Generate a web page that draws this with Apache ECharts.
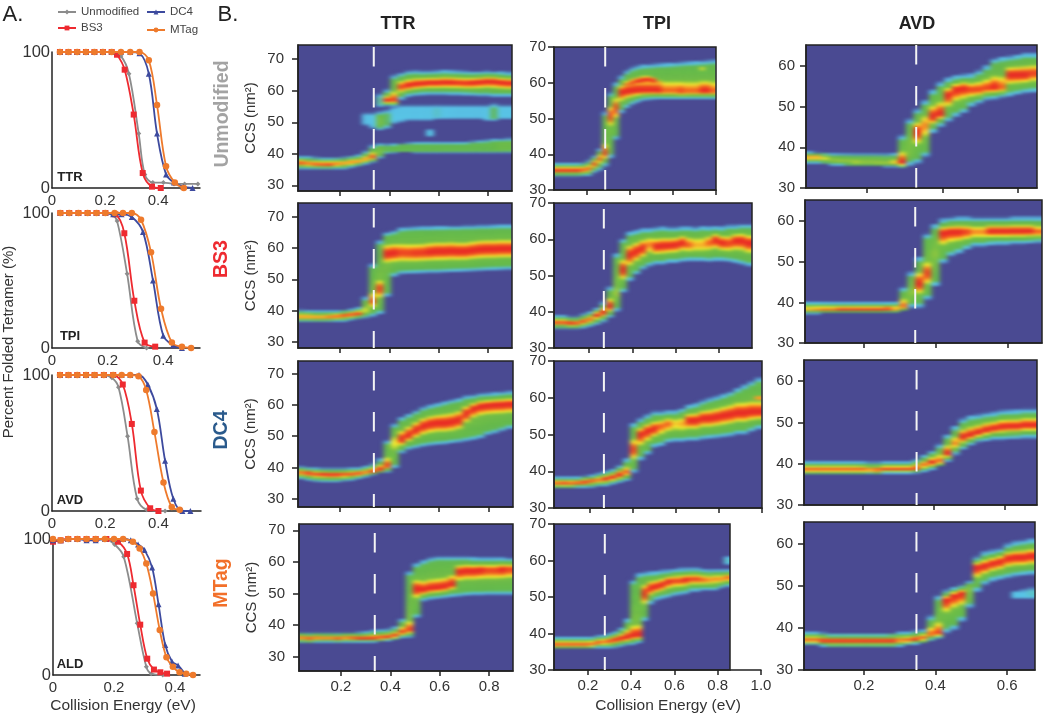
<!DOCTYPE html>
<html>
<head>
<meta charset="utf-8">
<style>html,body{margin:0;padding:0;background:#fff}#c{width:1050px;height:719px}</style>
<script src="https://cdn.jsdelivr.net/npm/echarts@6/dist/echarts.min.js"></script>
</head>
<body>
<svg width="0" height="0" style="position:absolute"><filter id="heatBlur" x="0" y="0" width="100%" height="100%" color-interpolation-filters="sRGB"><feGaussianBlur stdDeviation="2.4 0.8"/></filter></svg>
<div id="c"></div>
<script>
// ---------- Panel A: percent folded tetramer, [energy, percent]
const ttrUnmod=[[.03,100],[.062,100],[.095,100],[.128,100],[.16,100],[.192,100],[.225,100],[.26,97],[.29,84],[.327,40],[.35,10],[.38,4],[.42,4],[.46,3],[.5,3],[.55,3]];
const ttrBs3=[[.03,100],[.062,100],[.095,100],[.128,100],[.16,100],[.192,100],[.225,100],[.245,98],[.274,87],[.308,54],[.342,11],[.377,1],[.41,0]];
const ttrDc4=[[.03,100],[.062,100],[.095,100],[.128,100],[.16,100],[.192,100],[.225,100],[.26,100],[.295,100],[.33,99],[.365,84],[.396,40],[.43,10],[.46,4],[.495,1],[.53,0]];
const ttrMtag=[[.03,100],[.062,100],[.095,100],[.128,100],[.16,100],[.192,100],[.225,100],[.26,100],[.295,100],[.33,100],[.365,94],[.396,61],[.43,16],[.463,4],[.497,0]];
const tpiUnmod=[[.03,100],[.062,100],[.095,100],[.128,100],[.16,100],[.192,100],[.215,99],[.234,94],[.27,55],[.308,5],[.34,0]];
const tpiBs3=[[.03,100],[.062,100],[.095,100],[.128,100],[.16,100],[.192,100],[.228,99],[.26,85],[.296,35],[.333,4],[.371,1]];
const tpiDc4=[[.03,100],[.062,100],[.095,100],[.128,100],[.16,100],[.192,100],[.22,99],[.25,99],[.287,97],[.327,86],[.363,50],[.40,9],[.435,2],[.467,0]];
const tpiMtag=[[.03,100],[.062,100],[.095,100],[.128,100],[.16,100],[.192,100],[.225,100],[.255,100],[.287,100],[.32,95],[.356,71],[.392,29],[.431,4],[.467,1],[.50,0]];
const avdUnmod=[[.03,100],[.062,100],[.095,100],[.128,100],[.16,100],[.192,100],[.225,98],[.25,91],[.284,55],[.32,9],[.356,1],[.425,0]];
const avdBs3=[[.03,100],[.062,100],[.095,100],[.128,100],[.16,100],[.195,100],[.23,100],[.266,93],[.30,64],[.334,15],[.369,2],[.40,0]];
const avdDc4=[[.03,100],[.062,100],[.095,100],[.128,100],[.16,100],[.195,100],[.23,100],[.262,100],[.294,100],[.327,100],[.36,93],[.394,75],[.425,37],[.456,9],[.49,0],[.52,0]];
const avdMtag=[[.03,100],[.062,100],[.095,100],[.128,100],[.16,100],[.195,100],[.23,100],[.262,100],[.294,100],[.325,99],[.354,89],[.385,58],[.419,21],[.45,3],[.48,1]];
const aldUnmod=[[0,99],[.025,99],[.05,100],[.08,100],[.11,100],[.14,100],[.17,100],[.202,96],[.232,87],[.276,38],[.306,6],[.322,1],[.36,0]];
const aldBs3=[[0,98],[.025,99],[.05,100],[.08,100],[.11,100],[.14,100],[.175,100],[.213,98],[.243,89],[.264,66],[.286,37],[.309,12],[.331,4],[.352,2],[.374,1]];
const aldDc4=[[0,99],[.025,99],[.05,100],[.08,100],[.11,99],[.14,99],[.17,100],[.2,100],[.23,100],[.255,99],[.279,96],[.30,92],[.325,79],[.346,52],[.368,22],[.39,10],[.41,7],[.432,1]];
const aldMtag=[[0,100],[.025,99],[.05,100],[.08,100],[.11,100],[.14,100],[.17,100],[.2,100],[.23,100],[.262,98],[.284,93],[.306,82],[.328,60],[.35,33],[.372,13],[.393,6],[.415,2],[.437,1],[.459,0]];

// ---------- Panel B: per-column band readings (lower edge, ridge, upper edge, intensity)
const ttrUnmodLo=[35.2,35.1,35,35,35,35.1,35.2,35.6,36,36.6,37.3,38.6,40,40.3,40.4,40.4,40.3,40.3,40.3,40.3,40.3,40.3,40.3,40.3,40.3,40.3,40.3,40.3,40.3,40.3];
const ttrUnmodMid=[37.2,37,36.8,36.7,36.7,36.9,37.1,37.4,37.6,38.3,39,41,41.5,41.7,41.8,41.8,41.8,41.8,41.8,41.8,41.9,41.9,41.9,41.9,42,42,42,42.1,42.2,42.3];
const ttrUnmodHi=[39.3,39.2,39,38.9,38.9,38.9,39,39.4,39.8,41,43,43.3,43,43.2,43.4,43.5,43.6,43.7,43.7,43.6,43.6,43.6,43.7,43.8,44,44.2,44.5,44.7,44.9,45];
const ttrUnmodPeak=[.95,.9,.95,.95,.97,.9,.85,.88,.85,.85,.92,.45,.35,.38,.38,.38,.38,.38,.38,.38,.38,.38,.38,.38,.38,.38,.38,.4,.42,.42];
const ttrUnmodUpperLo=[54.8,55.2,55,57,58,58.3,58.5,58.6,58.6,58.6,58.5,58.5,58.4,58.3,58.2,58.2,58,58,58];
const ttrUnmodUpperMid=[56.5,56.9,57,61.3,61.8,62.2,62.4,62.6,62.6,62.7,62.7,62.6,62.5,62.6,62.8,63,63,62.7,62.5];
const ttrUnmodUpperHi=[59,60.5,65,65.8,66.4,66.5,66.4,66.4,66.5,66.7,66.6,66.5,66.4,66.3,66.3,66.4,66.3,66.2,66];
const ttrUnmodUpperPeak=[.25,1,.95,.95,1,1,1,1,1,1,1,.98,.98,1,1,1,1,1,1];
const ttrUnmodHazeLo=[49,48,47.5,48,49.5,50,50.5,50.5,50.5,50.5,51,51,51,51,51,51,51,50.5,50.5,51,51];
const ttrUnmodHazeMid=[51,50.5,50.4,50.8,52,52.5,53,53,53,53,53,53,53,53,53,53,53,52.5,52.5,53,53];
const ttrUnmodHazeHi=[53,53,53.5,54,55,55.5,55.5,55.5,55.5,55.5,55.5,55.5,55.5,55.5,55.5,55.5,55.5,55.5,56,55.5,55.5];
const ttrUnmodHazePeak=[.15,.2,.45,.3,.2,.2,.2,.19,.2,.2,.22,.2,.19,.18,.18,.18,.18,.2,.3,.2,.2];

const ttrBs3Lo=[36.3,36.3,36.3,36.3,36.3,36.4,36.5,36.8,37.2,37.6,38,38.8,44.4,50.8,51.6,51.7,51.8,51.9,52,52,52.1,52.2,52.3,52.4,52.5,52.6,52.7,52.8,52.9,53];
const ttrBs3Mid=[38,38,37.9,37.9,38,38.2,38.5,38.8,39.1,40,43,47,58.2,58.5,58.6,58.5,58.5,58.6,58.8,59,59,59.1,59,59,59.3,59.6,59.7,59.7,59.8,59.8];
const ttrBs3Hi=[40.3,40.2,40,40,40,40,40.2,40.4,41,44.5,55,62.5,65.2,65.7,66.6,66.8,66.9,67,67,67.1,67.1,67.2,67.2,67.3,67.3,67.4,67.4,67.5,67.6,67.6];
const ttrBs3Peak=[.85,.85,.85,.85,.9,.95,.95,1,1,.65,.9,.95,1,1,.95,.95,.97,.97,1,1,1,1,1,1,1,1,1,1,1,1];

const ttrDc4Lo=[36.2,35.8,35.5,35.4,35.3,35.4,35.6,35.9,36.4,37,37.6,38.2,38.5,39.7,44.5,45.6,46.1,46.6,47,47.2,47.4,47.7,48,48.4,48.8,49.3,50.4,50.9,51.6,52.3];
const ttrDc4Mid=[38.5,38.3,38,37.9,37.8,37.8,37.9,38,38.2,38.5,38.9,39.4,40.5,48,49,50.4,52,53.3,54,54.3,54.3,54.6,55.2,57.3,58.8,59.6,59.9,60.1,60.2,60.4];
const ttrDc4Hi=[40.3,40.1,39.9,39.8,39.8,39.8,39.8,39.9,40,40.5,41.3,43,48.8,54,56.2,57.2,58.3,59.4,60.1,60.6,61.2,61.8,62.2,63,63.3,63.8,63.9,64.1,64.3,64.5];
const ttrDc4Peak=[.9,1,.95,1,1,1,.95,.95,1,.9,1,1,.95,.7,1,1,1,1,1,1,1,1,1,1,1,1,1,1,1,1];

const ttrMtagLo=[34.2,34.2,34.3,34.4,34.4,34.3,34.4,34.3,34.4,34.4,34.5,34.8,35,35.3,35.8,36,42.2,47.5,48,48.2,48.5,48.8,49,49.2,49.4,49.4,49.5,49.5,49.5,49.5];
const ttrMtagMid=[36,35.8,36,35.9,35.9,35.8,36,36,35.8,35.8,35.9,36,36.1,36.6,37.7,38.5,51.5,51.2,51.7,51.9,52.2,53,57,57.3,57.3,57.5,57.5,57.5,57.7,57.8];
const ttrMtagHi=[37.7,37.7,37.7,37.7,37.7,37.7,37.7,37.7,37.8,38,38.4,38.6,38.8,39.5,42.2,57,59.6,60.6,61.4,61.8,61.8,61.8,61.8,61.8,61.6,61.5,61.5,61.5,61.5,61.3];
const ttrMtagPeak=[.9,.95,.9,.9,.9,.95,.9,.95,1,1,1,1,1,1,.95,.95,1,1,1,1,1,1,1,1,1,1,.95,.95,1,.95];

const tpiUnmodLo=[33.7,33.7,33.7,33.7,33.7,33.8,33.9,34.7,35.4,36.5,38.8,44,51.4,52.8,53.7,54.4,55,55.1,55.2,55.3,55.3,55.3,55.3,55.3,55.3,55.4,55.4,55.4,55.4,55.4];
const tpiUnmodMid=[35.6,35.6,35.6,35.6,35.6,35.7,36,37.3,38.8,40.3,50.7,53,57.4,57.7,57.8,57.9,57.9,57.9,57.9,57.8,57.7,57.7,57.7,57.6,57.6,57.6,57.6,57.7,57.7,57.6];
const tpiUnmodHi=[37.7,37.7,37.7,37.7,37.7,37.8,38.4,39.8,41.6,52,57.4,60.2,62.1,63.5,64.4,64.9,65.2,65.3,65.4,65.5,65.6,65.7,65.8,65.9,66,66.1,66.2,66.3,66.4,66.5];
const tpiUnmodPeak=[1,1,1,1,1,.95,.9,.95,.9,.95,.95,.95,1,1,1,1,1,1,1,1,.9,.9,.9,.95,.9,.9,.9,1,1,.9];
const tpiUnmodUpperLo=[58,58,58,58,58,58,58,58];
const tpiUnmodUpperMid=[59.5,60,60.5,60.8,61,60.7,60,59.5];
const tpiUnmodUpperHi=[62,63,63.3,63.5,63.5,63,62,61];
const tpiUnmodUpperPeak=[.9,.95,1,1,1,1,.85,.75];

const tpiBs3Lo=[35.2,35.2,35.2,35.2,35.5,35.8,36.4,37.1,38.3,40,45.2,48.4,50.2,51.6,52.5,53,53,53.4,53.4,53.7,53.9,53.9,53.9,53.7,53.9,53.9,53.7,53.4,53,52.5];
const tpiBs3Mid=[37.1,37.1,36.9,36.9,37.4,38,39.2,39.9,41.5,45.2,51.6,55.7,56.7,57.6,58.7,58,58.2,58.3,58.5,59.1,58.5,58.5,58.5,59.1,59.9,59.1,58.9,59.7,59.7,59];
const tpiBs3Hi=[39,39,38.8,38.8,39.4,40.1,41,42.9,47,56.2,60.3,62.2,62.6,63.1,63.1,63.4,63.6,63.4,63.4,63.6,63.6,63.4,63.7,63.6,63.7,63.6,64,64,64.3,64.3];
const tpiBs3Peak=[.95,.95,1,.95,.95,.9,1,1,1,.55,1,1,1,1,.85,1,1,1,1,1,.9,.8,.8,.9,1,1,.95,1,1,1];

const tpiDc4Lo=[35.3,35.3,35.3,35.4,35.5,35.6,35.8,36,36.4,36.8,37.3,39.5,42.9,44.5,46.4,46.8,47.7,48,48,48.2,48.2,48.6,48.8,49,49.2,49.5,50,50,50.7,51.4];
const tpiDc4Mid=[36.8,36.8,36.8,36.9,37.1,37.5,37.7,38,38.4,39.1,39.8,45.9,50,51,51.6,52.3,53,53,53,53.9,53.9,54.5,54.5,54.8,55.2,55.5,55.9,55.9,56.2,56.2];
const tpiDc4Hi=[38.5,38.5,38.5,38.6,38.8,38.9,39.4,40,40.6,41.8,43.6,53.2,54.5,55.5,56.4,56.4,56.6,56.6,57.3,58.2,58.6,59.4,60,60.5,61.1,61.8,62.7,63.6,64.5,65.5];
const tpiDc4Peak=[.95,1,.95,.95,1,.95,.9,1,1,1,.9,.95,1,1,1,.9,.9,.75,.8,1,1,1,1,1,1,1,1,1,1,1];

const tpiMtagLo=[35.8,35.8,35.8,35.8,35.8,35.8,35.9,35.9,35.9,35.9,36.1,36.4,36.7,36.9,37.3,43.3,47.9,49,49.4,49.7,50.2,50.5,50.7,51.4,51.4,51.7,51.7,51.7,52.5,52.7];
const tpiMtagMid=[37,37,37,37,37,37,37.1,37.6,37.8,38,38.3,38.7,38.9,39.4,39.6,51,52.5,52.9,53.4,54.3,54.5,54.5,54.8,55,55,54.8,54.8,55,55,55.4];
const tpiMtagHi=[39.2,39.2,39.2,39.2,39.2,39.2,39.2,39.4,39.6,40,40.7,41.7,44.2,54.8,56.6,56.9,57.1,57.2,57.5,57.5,57.7,58,58,58,58,57.7,57.5,57.5,57.5,57.5];
const tpiMtagPeak=[.95,.95,.95,.95,.95,.95,.95,.95,.9,.95,1,1,1,1,1,1,1,1,1,1,.95,.95,1,.95,.95,.9,.85,.85,.85,.9];

const avdUnmodLo=[36,36,35.8,35.6,35.5,35.4,35.4,35.4,35.4,35.3,35.2,35.2,34.9,35.4,36,37.6,43.4,45,46.2,47.4,48.3,49.9,50.7,51.6,51.7,52.2,52.4,52.8,53.2,53.4];
const avdUnmodMid=[37.6,37.6,37.4,37,36.8,36.6,36.4,36.4,36.4,36.3,36.2,36.2,36.2,39.3,43.8,45.4,47.5,48.3,52.8,54.2,54.5,54.2,54.2,54.5,54.7,54.7,57.8,57.8,57.8,58.2];
const avdUnmodHi=[38.9,38.8,38.6,38.4,38.4,38.4,38.4,38.4,38.4,38.4,38.4,38.5,43,47,49.5,51.6,54.2,56.1,57.2,57.7,58,58.2,59,60.2,61.9,62.3,62.5,62.8,63.2,63.2];
const avdUnmodPeak=[.85,.85,.7,.55,.55,.55,.6,.55,.55,.55,.55,.75,1,.45,1,.85,1,1,1,1,1,.95,.95,.95,1,.9,1,1,1,.95];

const avdBs3Lo=[37.2,37.2,37.3,37.3,37.4,37.4,37.4,37.4,37.4,37.4,37.5,37.5,37.8,38.6,38.6,40.6,43.9,49.6,51.3,52,52.9,53.7,53.7,54,54.1,54.1,54.3,54.3,54.5,54.7];
const avdBs3Mid=[38.3,38.3,38.3,38.3,38.3,38.3,38.3,38.3,38.3,38.3,38.4,38.4,39,42.3,44.7,47.2,52,57.1,57.4,57.4,57.4,57.4,57.4,57.6,57.6,57.6,57.6,57.6,57.6,57.4];
const avdBs3Hi=[40.2,40.2,40.1,40,40,40,40,40,40,40,40.1,40.2,43.9,47.6,51.3,57,59.4,60.7,61,61.2,61.2,61,61,61,61,61,61.2,61.2,61.2,61.2];
const avdBs3Peak=[.8,.85,.9,.9,1,1,1,1,1,1,1,.85,.9,.5,1,.95,.5,1,1,1,.95,.85,.85,1,1,1,1,1,1,.9];

const avdDc4Lo=[37.4,37.4,37.4,37.4,37.4,37.4,37.4,37.4,37.5,37.4,37.6,37.6,37.6,37.6,37.7,38,38.5,39.3,40.5,42.1,43.3,44.5,45.2,45.5,45.7,45.7,45.9,46,46.1,46.1];
const avdDc4Mid=[38.6,38.6,38.6,38.6,38.6,38.6,38.6,38.6,38.5,38.5,38.7,38.7,38.7,38.7,38.9,39.8,40.3,40.6,42.5,44.9,46.5,47,47.6,48.2,48.6,49,49.1,49.1,49.4,49.4];
const avdDc4Hi=[40.6,40.6,40.6,40.6,40.6,40.6,40.6,40.5,40.4,40.4,40.5,40.5,40.5,40.5,41.3,42.1,43.3,44.9,47.3,49.3,51,51.8,52,52.4,52.6,53,53.1,53.2,53.4,53.4];
const avdDc4Peak=[.95,.95,.95,.95,.95,.95,.95,.95,.9,.95,1,1,1,1,.95,.9,1,.9,1,.85,1,1,1,1,1,1,1,1,1,1];

const avdMtagLo=[36,36,35.6,35.3,35.3,35.3,35.3,35.3,35.3,35.3,35.3,35.3,35.6,36,36.1,36.3,36.9,37.5,38.7,39.5,41.5,44.7,48.5,50.2,51,51.4,51.8,52.2,52.4,52.6];
const avdMtagMid=[37.1,37.1,37,37,37,37,37,37,37,37,37,37,37.1,37.1,37.3,37.7,38.5,38.7,46.7,47.7,48.3,49.5,54.5,54.8,55.4,55.8,56.6,56.8,56.8,57.1];
const avdMtagHi=[39.1,39.1,38.9,38.7,38.7,38.7,38.7,38.7,38.7,38.7,38.7,38.8,39,39.1,39.4,39.5,43,47.9,49,49.8,50.4,51,57,58.2,58.6,59,60.1,60.7,61,61.3];
const avdMtagPeak=[.95,.95,1,1,1,1,1,1,1,1,1,1,.9,.95,1,.95,.9,.95,1,1,1,.5,1,1,1,1,1,1,1,1];

const yTicksWide=[30,40,50,60,70], yTicksTpi=[30,40,50,60,70], yTicksAvd=[30,40,50,60];
const xTicksTtr=[.2,.4,.6,.8], xTicksTpi=[.2,.4,.6,.8,1], xTicksAvd=[.2,.4,.6];
const leftXTicks=[0,.2,.4], leftYTicks=[0,100];
const conditionNames=['Unmodified','BS3','DC4','MTag'];
const conditionColors=['#8c8c8c','#ee2a30','#3d4a9e','#ee7a2c'];
const conditionSymbols=['diamond','rect','triangle','circle'];

// ---------- assembly
const band=(lo,mid,hi,peak,start=0)=>({lo,mid,hi,peak,start});
const panels=[
 {g:[298,512,45,191], x:[.03,.897], y:[28.2,74.5], ticksX:xTicksTtr, ticksY:yTicksWide, dash:.337, lead:2, name:true, lm:14,
  bands:[band(ttrUnmodLo,ttrUnmodMid,ttrUnmodHi,ttrUnmodPeak),band(ttrUnmodUpperLo,ttrUnmodUpperMid,ttrUnmodUpperHi,ttrUnmodUpperPeak,11),band(ttrUnmodHazeLo,ttrUnmodHazeMid,ttrUnmodHazeHi,ttrUnmodHazePeak,9),band([45.5],[46.5],[47.6],[.2],18)]},
 {g:[298,512,203,348], x:[.03,.897], y:[28,74.4], ticksX:xTicksTtr, ticksY:yTicksWide, dash:.337, lead:5, name:true, lm:14, bands:[band(ttrBs3Lo,ttrBs3Mid,ttrBs3Hi,ttrBs3Peak)]},
 {g:[298,513,361,507], x:[.03,.9], y:[27.4,74], ticksX:xTicksTtr, ticksY:yTicksWide, dash:.337, lead:10, name:true, lm:14, bands:[band(ttrDc4Lo,ttrDc4Mid,ttrDc4Hi,ttrDc4Peak)]},
 {g:[299,513,524,671], x:[.03,.897], y:[25.4,72], ticksX:xTicksTtr, ticksY:yTicksWide, dash:.337, lead:9, name:true, lm:14, labels:true, bands:[band(ttrMtagLo,ttrMtagMid,ttrMtagHi,ttrMtagPeak)]},
 {g:[554,716,47,190], x:[.047,.8], y:[30,70], ticksX:[.2,.4,.6,.8], ticksY:yTicksTpi, dash:.285, lead:0, lm:8, bands:[band(tpiUnmodLo,tpiUnmodMid,tpiUnmodHi,tpiUnmodPeak),band(tpiUnmodUpperLo,tpiUnmodUpperMid,tpiUnmodUpperHi,tpiUnmodUpperPeak,13),band([63],[64],[65],[.75],27)]},
 {g:[554,752,203,348], x:[.038,.952], y:[30,70], ticksX:[.2,.4,.6,.8], ticksY:yTicksTpi, dash:.268, lead:6, lm:8, bands:[band(tpiBs3Lo,tpiBs3Mid,tpiBs3Hi,tpiBs3Peak)]},
 {g:[554,762,361,508], x:[.033,1], y:[30,70], ticksX:xTicksTpi, ticksY:yTicksTpi, dash:.265, lead:11, lm:8, bands:[band(tpiDc4Lo,tpiDc4Mid,tpiDc4Hi,tpiDc4Peak),band([59],[60],[61],[1],29)]},
 {g:[554,730,524,670], x:[.043,.857], y:[30,70], ticksX:xTicksTpi, ticksY:yTicksTpi, dash:.278, lead:10, lm:8, labels:true, axisEnd:761, axisMax:1, bands:[band(tpiMtagLo,tpiMtagMid,tpiMtagHi,tpiMtagPeak),band([59],[60],[61],[.22],29)]},
 {g:[806,1037,45,188], x:[.038,.65], y:[30,65.1], ticksX:xTicksAvd, ticksY:yTicksAvd, dash:.33, lead:0, lm:11, bands:[band(avdUnmodLo,avdUnmodMid,avdUnmodHi,avdUnmodPeak)]},
 {g:[805,1042,200,343], x:[.036,.694], y:[30,65.2], ticksX:xTicksAvd, ticksY:yTicksAvd, dash:.342, lead:7, lm:11, bands:[band(avdBs3Lo,avdBs3Mid,avdBs3Hi,avdBs3Peak)]},
 {g:[804,1037,360,505], x:[.034,.69], y:[30,65.1], ticksX:xTicksAvd, ticksY:yTicksAvd, dash:.351, lead:10, lm:11, bands:[band(avdDc4Lo,avdDc4Mid,avdDc4Hi,avdDc4Peak)]},
 {g:[804,1035,522,670], x:[.033,.678], y:[30,65.2], ticksX:xTicksAvd, ticksY:yTicksAvd, dash:.347, lead:10, lm:11, labels:true, bands:[band(avdMtagLo,avdMtagMid,avdMtagHi,avdMtagPeak),band([47,47,47],[48,48,48],[48.6,49,49.5],[.2,.2,.22],27)]}
];
const linePanels=[
 {g:[52,200,52,188], xmax:.558, series:[ttrUnmod,ttrBs3,ttrDc4,ttrMtag]},
 {g:[52,200,213,348], xmax:.532, series:[tpiUnmod,tpiBs3,tpiDc4,tpiMtag]},
 {g:[52,201,375,511], xmax:.56, series:[avdUnmod,avdBs3,avdDc4,avdMtag]},
 {g:[53,200,539,675], xmax:.482, series:[aldUnmod,aldBs3,aldDc4,aldMtag]}
];
const BG='#4a4a92', FONT='"Liberation Sans",Arial,sans-serif', TXT='#333';
const heatColors=[BG,'#5ab8e2','#59c5e6','#62bb62','#66bb4a','#8ac53f','#b8d636','#f4ec2e','#f9b228','#f4621f','#ea2a24'];
const grid=[],xAxis=[],yAxis=[],series=[],heatIdx=[];
const rectOf=(g)=>({left:g[0],width:g[1]-g[0],top:g[2],height:g[3]-g[2]});

function cellValue(b,c,y){
  let best=0;
  b.forEach(r=>{
    const i=c-r.start;
    if(i<0||i>=r.mid.length)return;
    const lo=r.lo[i],mid=r.mid[i],hi=r.hi[i],pk=r.peak[i];
    const side=y<mid?mid-lo:hi-mid, dist=Math.abs(y-mid);
    if(dist>=side)return;
    const ramp=pk<.3?side*.4:Math.min(1.6,side*.4);
    const edge=Math.min(1,(side-dist)/ramp);
    const body=Math.min(pk,.36+.12*(1-dist/side))*edge;
    const w=Math.min(side,7)*.6;
    const t=dist/w;
    const core=t<1?pk*(1-t*t):0;
    best=Math.max(best,body,core);
  });
  return best;
}

panels.forEach(p=>{
  const gi=grid.length;
  grid.push({...rectOf(p.g),show:true,backgroundColor:BG,borderColor:'#222',borderWidth:1.5});
  const N=30, R=Math.round((p.y[1]-p.y[0])/.5);
  const cx=[],cy=[],cells=[];
  // one repeated edge column on each side, hidden by the panel frame, keeps the display softening from dimming the edges
  for(let i=0;i<N+2;i++)cx.push(String(i));
  for(let j=0;j<R;j++)cy.push(String(j));
  for(let i=0;i<N+2;i++)for(let j=0;j<R;j++){
    const v=cellValue(p.bands,Math.min(N-1,Math.max(0,i-1)),p.y[0]+(j+.5)*(p.y[1]-p.y[0])/R);
    if(v>0)cells.push([i,j,+v.toFixed(3)]);
  }
  const cw=(p.g[1]-p.g[0])/N;
  const hg=grid.length;
  grid.push({left:p.g[0]-cw,width:p.g[1]-p.g[0]+2*cw,top:p.g[2],height:p.g[3]-p.g[2],show:false});
  const catX=xAxis.length; xAxis.push({type:'category',gridIndex:hg,data:cx,show:false});
  const catY=yAxis.length; yAxis.push({type:'category',gridIndex:hg,data:cy,show:false});
  heatIdx.push(series.length);
  series.push({type:'heatmap',xAxisIndex:catX,yAxisIndex:catY,data:cells,progressive:0,animation:false,itemStyle:{borderWidth:0},emphasis:{disabled:true},zlevel:1});
  const vx=xAxis.length;
  const xVisible=!p.axisEnd;
  xAxis.push({type:'value',gridIndex:gi,zlevel:2,min:p.x[0],max:p.x[1],position:'bottom',show:xVisible,splitLine:{show:false},
    axisLine:{show:true,onZero:false,lineStyle:{color:'#222',width:1.5}},
    axisTick:{show:true,length:5,customValues:p.ticksX,lineStyle:{color:'#222',width:1.5}},
    axisLabel:{show:!!p.labels,customValues:p.ticksX,margin:8,fontSize:15,fontFamily:FONT,color:TXT,formatter:v=>v.toFixed(1)}});
  const vy=yAxis.length;
  yAxis.push({type:'value',gridIndex:gi,zlevel:2,min:p.y[0],max:p.y[1],position:'left',splitLine:{show:false},
    name:p.name?'CCS (nm²)':'',nameLocation:'middle',nameGap:40,nameRotate:90,nameTextStyle:{fontSize:15,fontFamily:FONT,color:TXT},
    axisLine:{show:true,onZero:false,lineStyle:{color:'#222',width:1.5}},
    axisTick:{show:true,length:6,customValues:p.ticksY,lineStyle:{color:'#222',width:1.5}},
    axisLabel:{customValues:p.ticksY,margin:p.lm,fontSize:15,fontFamily:FONT,color:TXT}});
  series.push({type:'line',xAxisIndex:vx,yAxisIndex:vy,data:[[p.dash,p.y[1]],[p.dash,p.y[0]]],symbol:'none',silent:true,animation:false,zlevel:2,
    lineStyle:{color:'#f4f4f4',width:2,type:[19.5,21.5],dashOffset:41-p.lead}});
  if(p.axisEnd){
    const gx=grid.length;
    grid.push({left:p.g[0],width:p.axisEnd-p.g[0],top:p.g[2],height:p.g[3]-p.g[2],show:false});
    xAxis.push({type:'value',gridIndex:gx,zlevel:2,min:p.x[0],max:p.axisMax,splitLine:{show:false},
      axisLine:{show:true,onZero:false,lineStyle:{color:'#222',width:1.5}},
      axisTick:{show:true,length:5,customValues:p.ticksX,lineStyle:{color:'#222',width:1.5}},
      axisLabel:{customValues:p.ticksX,margin:8,fontSize:15,fontFamily:FONT,color:TXT,formatter:v=>v.toFixed(1)}});
    yAxis.push({type:'value',gridIndex:gx,min:p.y[0],max:p.y[1],show:false});
  }
});

linePanels.forEach(p=>{
  const gi=grid.length;
  grid.push({...rectOf(p.g),show:false});
  const xi=xAxis.length, yi=yAxis.length;
  xAxis.push({type:'value',gridIndex:gi,min:0,max:p.xmax,splitLine:{show:false},
    axisLine:{show:true,onZero:false,lineStyle:{color:'#222',width:1.5}},axisTick:{show:false},
    axisLabel:{customValues:leftXTicks,margin:5,fontSize:15,fontFamily:FONT,color:TXT,formatter:v=>v===0?'0':v.toFixed(1)}});
  yAxis.push({type:'value',gridIndex:gi,min:0,max:100,splitLine:{show:false},
    axisLine:{show:true,onZero:false,lineStyle:{color:'#222',width:1.5}},axisTick:{show:false},
    axisLabel:{customValues:leftYTicks,margin:2,fontSize:16.5,fontFamily:FONT,color:TXT}});
  p.series.forEach((d,k)=>series.push({name:conditionNames[k],type:'line',xAxisIndex:xi,yAxisIndex:yi,data:d,smooth:.35,clip:false,animation:false,
    symbol:conditionSymbols[k],symbolSize:k===3?6.5:k===0?5:6,itemStyle:{color:conditionColors[k]},lineStyle:{color:conditionColors[k],width:1.8},z:6+k}));
});

const txt=(text,x,y,font,fill,rot)=>({type:'text',x,y,rotation:rot||0,silent:true,z:20,style:{text,font,fill,align:'center',verticalAlign:'middle'}});
const R90=Math.PI/2;
const graphicEls=[
 txt('A.',13,15,'22px '+FONT,'#222'),txt('B.',228,15,'22px '+FONT,'#222'),
 txt('TTR',398,24,'bold 18px '+FONT,'#222'),txt('TPI',657,24,'bold 18px '+FONT,'#222'),txt('AVD',917,24,'bold 18px '+FONT,'#222'),
 txt('Unmodified',223,114,'bold 19.5px '+FONT,'#a3a3a3',R90),txt('BS3',222,259,'bold 19.5px '+FONT,'#ee2a30',R90),
 txt('DC4',222,430,'bold 19.5px '+FONT,'#2a5a8c',R90),txt('MTag',222,583,'bold 19.5px '+FONT,'#f2702a',R90),
 txt('Percent Folded Tetramer (%)',9,342,'15px '+FONT,TXT,R90),
 txt('Collision Energy (eV)',123,706,'15.5px '+FONT,TXT),txt('Collision Energy (eV)',668,706,'15.5px '+FONT,TXT),
 txt('TTR',70,177,'bold 13px '+FONT,'#222'),txt('TPI',70,336,'bold 13px '+FONT,'#222'),
 txt('AVD',70,500,'bold 13px '+FONT,'#222'),txt('ALD',70,664,'bold 13px '+FONT,'#222')
];
const leg=(name,left,top)=>({data:[name],left,top,itemWidth:18,itemHeight:6,itemGap:0,padding:0,selectedMode:false,textStyle:{fontSize:11.5,fontFamily:FONT,color:'#444'}});
const chart=echarts.init(document.getElementById('c'),null,{renderer:'canvas'});
chart.setOption({
  animation:false,backgroundColor:'#fff',grid,xAxis,yAxis,series,
  legend:[leg('Unmodified',57,6),leg('BS3',57,22),leg('DC4',146,6),leg('MTag',146,24)],
  visualMap:{show:false,type:'continuous',min:0,max:1,dimension:2,seriesIndex:heatIdx,inRange:{color:heatColors}},
  graphic:{elements:graphicEls}
});
// display softening of the heat layer only, kept inside the panel frames
const heatLayer=document.querySelector('#c canvas[data-zr-dom-id="zr_1"]');
if(heatLayer){
  heatLayer.style.filter='url(#heatBlur)';
  heatLayer.style.clipPath="path('"+panels.map(p=>`M${p.g[0]+.75} ${p.g[2]+.75}H${p.g[1]-.75}V${p.g[3]-.75}H${p.g[0]+.75}Z`).join('')+"')";
}
</script>
</body>
</html>
